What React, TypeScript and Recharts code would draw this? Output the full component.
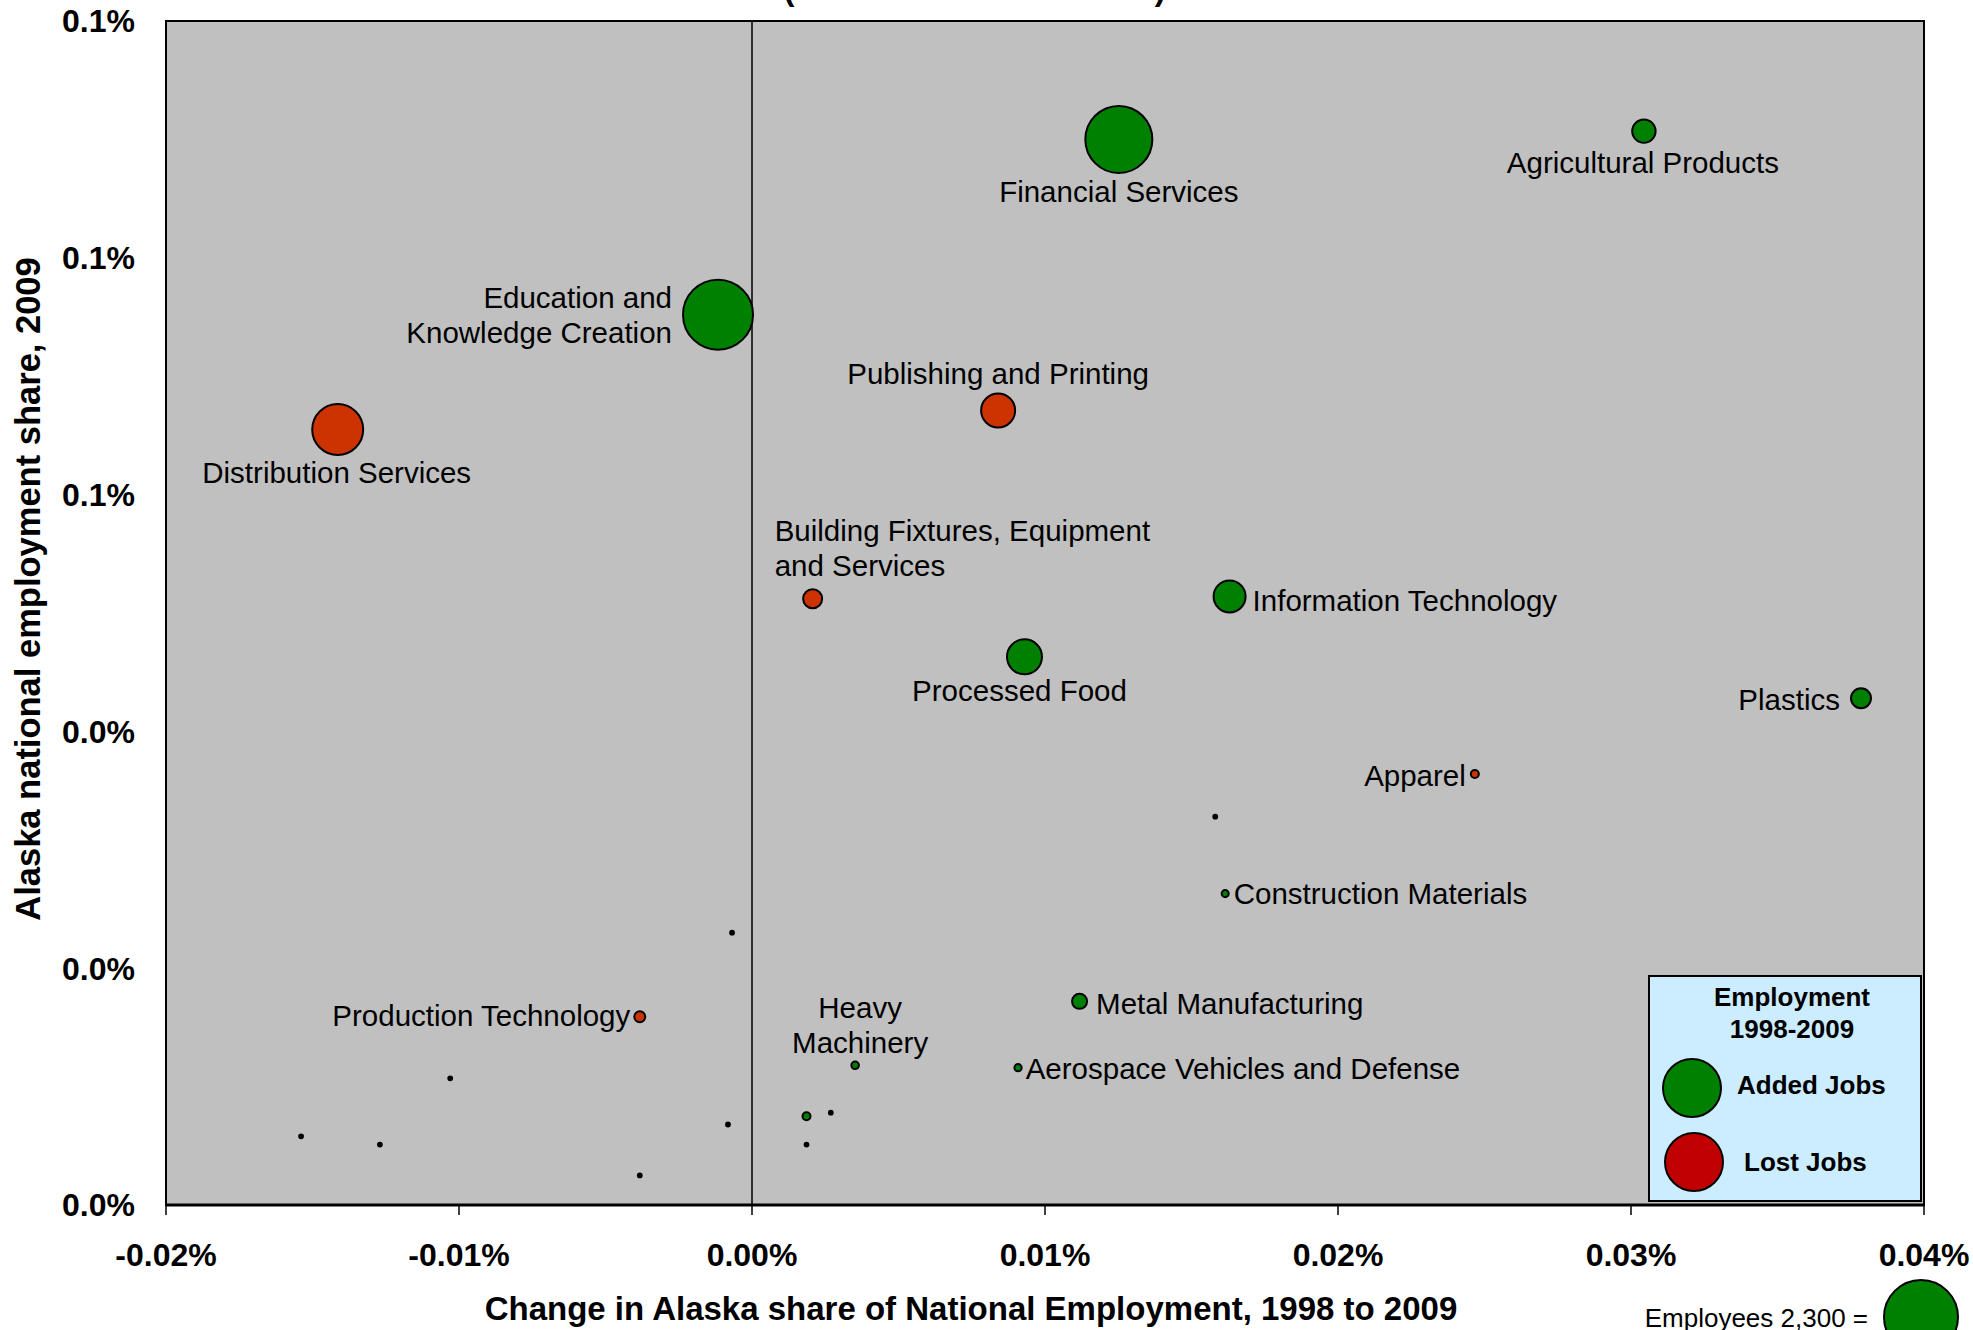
import {
  ScatterChart, Scatter, XAxis, YAxis, ZAxis, CartesianGrid,
  ReferenceLine, ReferenceArea, Legend, Label
} from 'recharts'

// cluster bubbles (x: change in share, y: share 2009, both in %)
const CLUSTERS = [
  'Financial Services', 'Agricultural Products', 'Education and\nKnowledge Creation',
  'Distribution Services', 'Publishing and Printing', 'Building Fixtures, Equipment\nand Services',
  'Information Technology', 'Processed Food', 'Plastics', 'Apparel', '',
  'Construction Materials', '', 'Metal Manufacturing', 'Production Technology',
  'Heavy\nMachinery', 'Aerospace Vehicles and Defense', '', '', '', '', '', '', '', '',
]
const SHARE_CHANGE = [
  0.01252, 0.03044, -0.00116, -0.01414, 0.0084, 0.00207, 0.0163, 0.0093, 0.03785, 0.02467, 0.01581,
  0.01615, -0.00068, 0.01118, -0.00383, 0.00352, 0.00908, -0.0103, 0.00186, 0.00269, -0.00082,
  -0.01539, -0.0127, 0.00186, -0.00383,
]
const SHARE_2009 = [
  0.09, 0.0907, 0.0752, 0.0655, 0.0671, 0.0512, 0.0514, 0.0463, 0.0428, 0.0364, 0.0328,
  0.0263, 0.023, 0.0172, 0.0159, 0.0118, 0.0116, 0.0107, 0.0075, 0.0078, 0.0068,
  0.0058, 0.0051, 0.0051, 0.0025,
]
const EMPLOYEES = [
  1885, 230, 2058, 1092, 486, 152, 430, 515, 168, 27, 6,
  21, 6, 95, 51, 24, 22, 6, 27, 6, 6, 6, 6, 6, 6,
]
const JOB_TREND = [
  'added', 'added', 'added', 'lost', 'lost', 'lost', 'added', 'added', 'added', 'lost', 'minor',
  'added', 'minor', 'added', 'lost', 'added', 'added', 'minor', 'added', 'minor', 'minor',
  'minor', 'minor', 'minor', 'minor',
]

const X_TICKS = [-0.02, -0.01, 0, 0.01, 0.02, 0.03, 0.04]
const Y_TICKS = [0, 0.02, 0.04, 0.06, 0.08, 0.1]
const REF_EMPLOYEES = 2300
const REF_RADIUS = 37

const FONT = '"Liberation Sans", Arial, Helvetica, sans-serif'
const FILL: Record<string, string> = { added: '#008000', lost: '#CC3300', minor: '#000000' }

type Side = 'top' | 'bottom' | 'left' | 'right' | 'topStart'
const LABEL_LAYOUT: Record<string, { side: Side; gap: number; dx?: number; dy?: number }> = {
  'Financial Services': { side: 'bottom', gap: 19 },
  'Agricultural Products': { side: 'bottom', gap: 20, dx: -1 },
  'Education and\nKnowledge Creation': { side: 'left', gap: 11 },
  'Distribution Services': { side: 'bottom', gap: 18, dx: -1 },
  'Publishing and Printing': { side: 'top', gap: 20 },
  'Building Fixtures, Equipment\nand Services': { side: 'topStart', gap: 24, dx: -38 },
  'Information Technology': { side: 'right', gap: 7, dy: 4 },
  'Processed Food': { side: 'bottom', gap: 15, dx: -5, dy: 1 },
  'Plastics': { side: 'left', gap: 11, dy: 1 },
  'Apparel': { side: 'left', gap: 5, dy: 1 },
  'Construction Materials': { side: 'right', gap: 5 },
  'Metal Manufacturing': { side: 'right', gap: 9, dy: 2 },
  'Production Technology': { side: 'left', gap: 4, dy: -1 },
  'Heavy\nMachinery': { side: 'top', gap: 19, dx: 5 },
  'Aerospace Vehicles and Defense': { side: 'right', gap: 4, dy: 1 },
}

const points = CLUSTERS.map((name, i) => ({
  name,
  x: SHARE_CHANGE[i],
  y: SHARE_2009[i],
  z: EMPLOYEES[i],
  trend: JOB_TREND[i],
}))

const LINE_H = 35

function Bubble(props: any) {
  const { cx, cy, payload } = props
  const r = props.width ? props.width / 2 : Math.sqrt((props.size || 0) / Math.PI)
  const layout = LABEL_LAYOUT[payload.name]
  let label = null
  if (layout) {
    const lines = payload.name.split('\n')
    const n = lines.length
    let x = cx
    let anchor = 'middle'
    let y0 = cy
    if (layout.side === 'bottom') {
      y0 = cy + r + layout.gap
    } else if (layout.side === 'top' || layout.side === 'topStart') {
      y0 = cy - r - layout.gap - LINE_H * (n - 1)
      if (layout.side === 'topStart') anchor = 'start'
    } else {
      y0 = cy - (LINE_H * (n - 1)) / 2
      x = layout.side === 'left' ? cx - r - layout.gap : cx + r + layout.gap
      anchor = layout.side === 'left' ? 'end' : 'start'
    }
    x += layout.dx || 0
    y0 += layout.dy || 0
    label = (
      <text fontFamily={FONT} fontSize={29.5} fill="#000" textAnchor={anchor}>
        {lines.map((l: string, k: number) => (
          <tspan key={k} x={x} y={y0 + k * LINE_H} dominantBaseline="central">{l}</tspan>
        ))}
      </text>
    )
  }
  return (
    <g>
      <circle cx={cx} cy={cy} r={Math.max(r, 1.5)} fill={FILL[payload.trend]} stroke="#000" strokeWidth={2} />
      {label}
    </g>
  )
}

function Overlay() {
  return (
    <svg width={1973} height={1330} style={{ position: 'absolute', left: 0, top: 0, overflow: 'hidden' }}>
      {/* title above is cut off, only parentheses tails show */}
      <text x={789} y={0} fontFamily={FONT} fontSize={32} fontWeight={700} textAnchor="middle">(</text>
      <text x={1160} y={0} fontFamily={FONT} fontSize={32} fontWeight={700} textAnchor="middle">)</text>

      <rect x={1649} y={976} width={272} height={225} fill="#CCECFF" stroke="#000" strokeWidth={2} />
      <text x={1792} y={997} fontFamily={FONT} fontSize={26} fontWeight={700} textAnchor="middle" dominantBaseline="central">Employment</text>
      <text x={1792} y={1029} fontFamily={FONT} fontSize={26} fontWeight={700} textAnchor="middle" dominantBaseline="central">1998-2009</text>
      <circle cx={1692} cy={1088} r={29} fill="#008000" stroke="#000" strokeWidth={2} />
      <text x={1737} y={1085} fontFamily={FONT} fontSize={26} fontWeight={700} dominantBaseline="central">Added Jobs</text>
      <circle cx={1694} cy={1162} r={29} fill="#C00000" stroke="#000" strokeWidth={2} />
      <text x={1744} y={1162} fontFamily={FONT} fontSize={26} fontWeight={700} dominantBaseline="central">Lost Jobs</text>

      <text x={1868} y={1318} fontFamily={FONT} fontSize={26} textAnchor="end" dominantBaseline="central">
        {`Employees ${REF_EMPLOYEES.toLocaleString('en-US')} =`}
      </text>
      <circle cx={1921} cy={1317} r={REF_RADIUS} fill="#008000" stroke="#000" strokeWidth={2} />
    </svg>
  )
}

export default function App() {
  return (
    <div style={{ width: 1973, height: 1330, overflow: 'hidden', position: 'relative', background: '#fff' }}>
      <style>{'body{margin:0}'}</style>
      <ScatterChart width={1973} height={1330} margin={{ top: 21, right: 49, bottom: 0, left: 0 }}>
        <CartesianGrid fill="#C0C0C0" horizontal={false} vertical={false} />
        <XAxis
          type="number" dataKey="x" domain={[-0.02, 0.04]} ticks={X_TICKS} allowDataOverflow
          tickFormatter={(v: number) => `${v.toFixed(2)}%`}
          height={125} tickSize={10} tickMargin={28}
          axisLine={{ stroke: '#000', strokeWidth: 3 }} tickLine={{ stroke: '#000', strokeWidth: 1.5 }}
          tick={{ fill: '#000', fontSize: 32, fontWeight: 700, fontFamily: FONT }}
        >
          <Label
            content={() => (
              <text x={971} y={1308} textAnchor="middle" dominantBaseline="central"
                fontFamily={FONT} fontSize={33} fontWeight={700} fill="#000">
                Change in Alaska share of National Employment, 1998 to 2009
              </text>
            )}
          />
        </XAxis>
        <YAxis
          type="number" dataKey="y" domain={[0, 0.1]} ticks={Y_TICKS} allowDataOverflow
          tickFormatter={(v: number) => `${v.toFixed(1)}%`}
          width={166} tickSize={10} tickMargin={21} tickLine={false}
          axisLine={{ stroke: '#000', strokeWidth: 2 }}
          tick={{ fill: '#000', fontSize: 32, fontWeight: 700, fontFamily: FONT }}
        >
          <Label
            content={() => (
              <text x={28} y={589} transform="rotate(-90 28 589)" textAnchor="middle" dominantBaseline="central"
                fontFamily={FONT} fontSize={34.5} fontWeight={700} fill="#000">
                Alaska national employment share, 2009
              </text>
            )}
          />
        </YAxis>
        <ZAxis type="number" dataKey="z" domain={[0, REF_EMPLOYEES]} range={[0, Math.PI * REF_RADIUS * REF_RADIUS]} />
        <ReferenceArea x1={-0.02} x2={0.04} y1={0} y2={0.1} fill="none" stroke="#000" strokeWidth={2} ifOverflow="visible" />
        <ReferenceLine x={0} stroke="#000" strokeWidth={1.5} />
        <Scatter data={points} isAnimationActive={false} shape={Bubble} />
        <Legend
          layout="horizontal" verticalAlign="middle" align="center"
          wrapperStyle={{ left: 0, top: 0, width: 1973, height: 1330, pointerEvents: 'none' }}
          content={() => <Overlay />}
        />
      </ScatterChart>
    </div>
  )
}
